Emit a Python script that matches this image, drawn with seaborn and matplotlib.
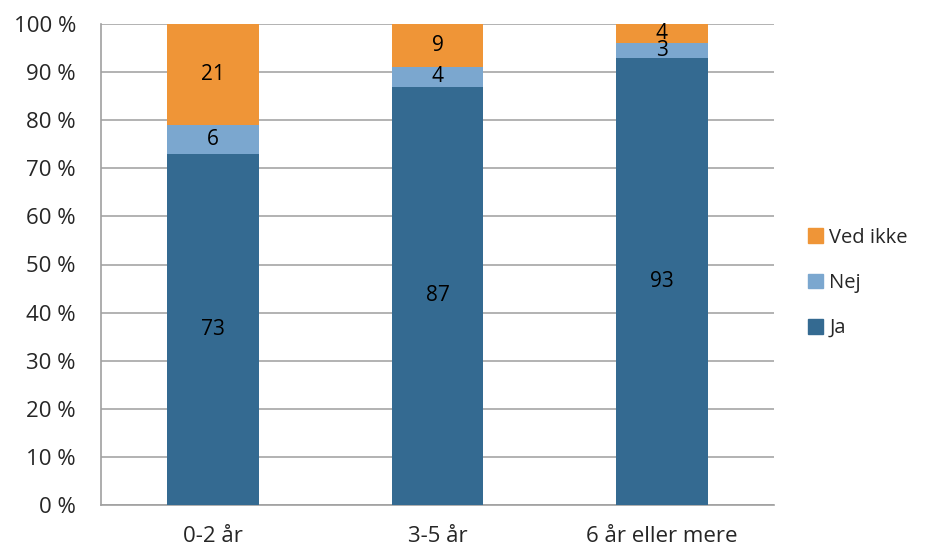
import numpy as np
import pandas as pd
import matplotlib
matplotlib.use("Agg")
import matplotlib.pyplot as plt
import seaborn as sns
from matplotlib.patches import Patch

categories = ["0-2 år", "3-5 år", "6 år eller mere"]
ja = [73, 87, 93]
nej = [6, 4, 3]
ved_ikke = [21, 9, 4]
series_names = ["Ja", "Nej", "Ved ikke"]
colors = {"Ja": "#346A91", "Nej": "#7BA7CF", "Ved ikke": "#EF9537"}

sns.set_style("white")
plt.rcParams['font.family'] = ['Open Sans', 'DejaVu Sans']
fs = 16

fig = plt.figure(figsize=(9.27, 5.5), dpi=100)
ax = fig.add_axes([101 / 927, 45 / 550, 673 / 927, 481 / 550])

df = pd.DataFrame({"kategori": categories, "Ja": ja, "Nej": nej, "Ved ikke": ved_ikke})
bottom = np.zeros(len(categories))
for name in series_names:
    sns.barplot(data=df, x="kategori", y=name, color=colors[name], width=0.41,
                bottom=bottom, saturation=1, linewidth=0, ax=ax, zorder=3)
    for i, v in enumerate(df[name]):
        ax.text(i, bottom[i] + v / 2, str(v), ha="center", va="center",
                fontsize=15, color="black", zorder=4)
    bottom = bottom + df[name].values

ax.set_ylim(0, 100)
ax.set_xlim(-0.5, 2.5)
ax.set_yticks(range(0, 101, 10))
ax.set_yticklabels([f"{t} %" for t in range(0, 101, 10)], fontsize=fs)
ax.set_xticks(range(len(categories)))
ax.set_xticklabels(categories, fontsize=fs)
ax.set_xticks([-0.5, 0.5, 1.5, 2.5], minor=True)
ax.tick_params(axis="x", which="major", length=0, pad=15)
ax.tick_params(axis="x", which="minor", length=8, color="#A0A0A0", width=1.2)
ax.tick_params(axis="y", length=0, pad=18)
ax.yaxis.grid(True, color="#A6A6A6", linewidth=1.2, zorder=0)
ax.set_axisbelow(True)
ax.set_xlabel("")
ax.set_ylabel("")
for s in ["top", "right"]:
    ax.spines[s].set_visible(False)
for s in ["left", "bottom"]:
    ax.spines[s].set_color("#A0A0A0")
    ax.spines[s].set_linewidth(1.2)

handles = [Patch(color=colors[n], label=n) for n in reversed(series_names)]
fig.legend(handles=handles, loc="center left", bbox_to_anchor=(800 / 927, 1 - 283 / 550),
           frameon=False, fontsize=14.5, handlelength=0.75, handleheight=0.75,
           handletextpad=0.3, labelspacing=1.25, borderaxespad=0)

fig.savefig("out.png", dpi=100)
